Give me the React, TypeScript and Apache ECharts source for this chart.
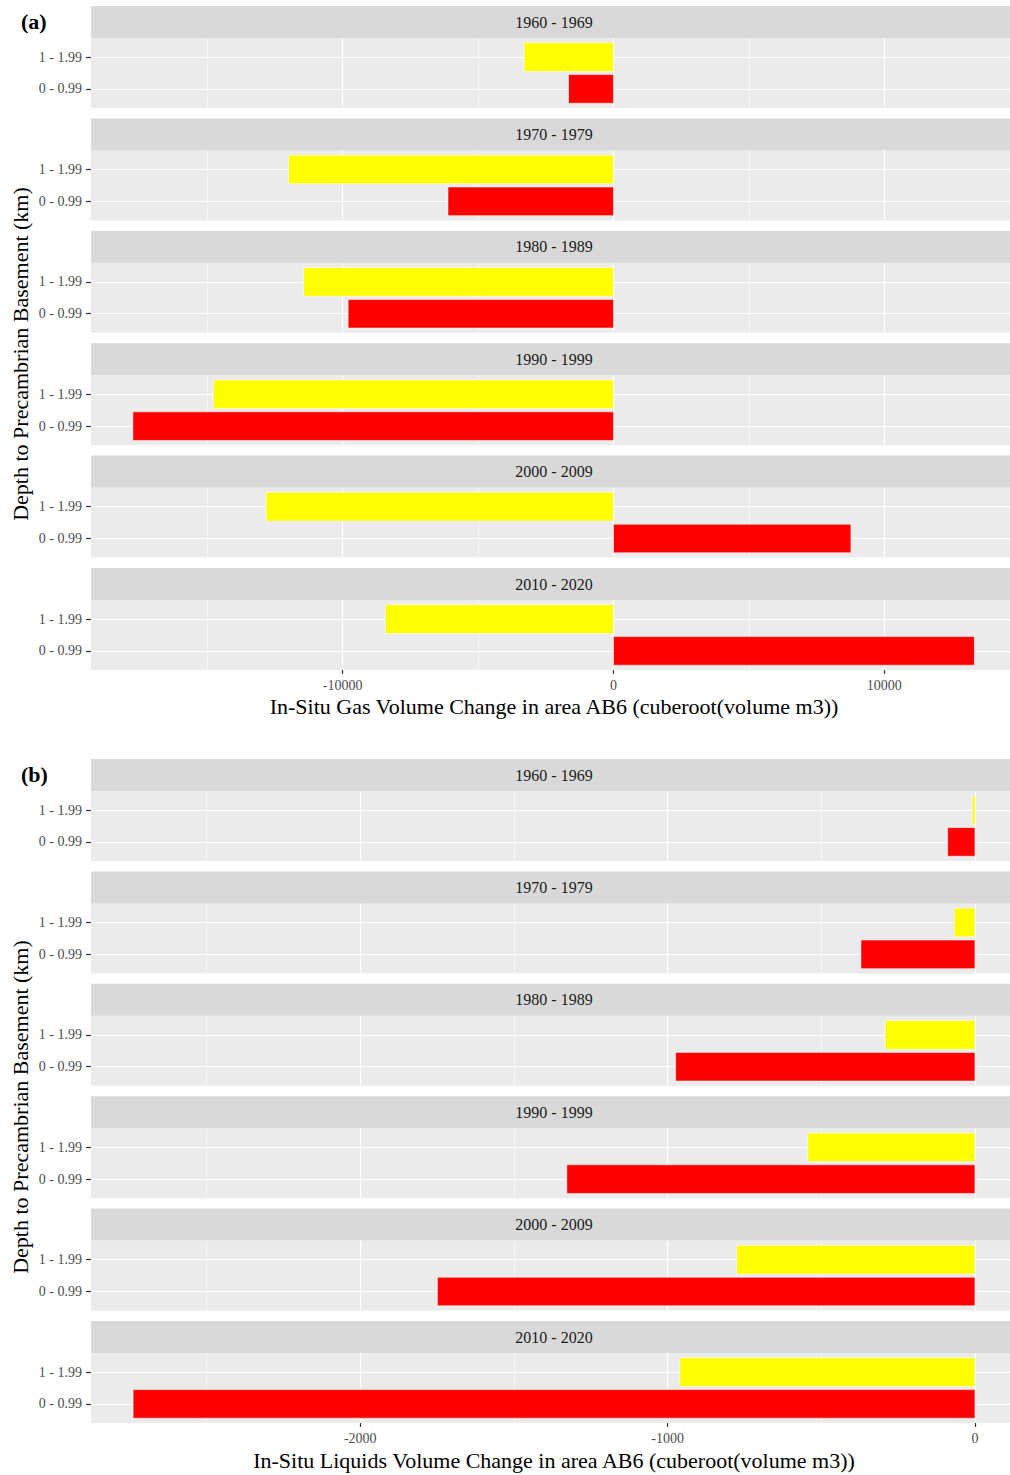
import React, { useEffect, useRef } from 'react';
import * as echarts from 'echarts';

// ---------- data ----------
const periods = ['1960 - 1969', '1970 - 1979', '1980 - 1989', '1990 - 1999', '2000 - 2009', '2010 - 2020'];
const depthClasses = ['0 - 0.99', '1 - 1.99'];

// In-situ gas volume change (cuberoot(volume m3))
const gasShallow = [-1660, -6110, -9800, -17750, 8770, 13330]; // 0 - 0.99 km (red)
const gasDeep = [-3300, -12000, -11440, -14770, -12830, -8420]; // 1 - 1.99 km (yellow)

// In-situ liquids volume change (cuberoot(volume m3))
const liquidShallow = [-89, -371, -974, -1328, -1749, -2739]; // 0 - 0.99 km (red)
const liquidDeep = [-9, -67, -292, -544, -775, -960]; // 1 - 1.99 km (yellow)

const gasMajorTicks = [-10000, 0, 10000];
const gasMinorTicks = [-15000, -5000, 5000];
const liquidMajorTicks = [-2000, -1000, 0];
const liquidMinorTicks = [-2500, -1500, -500];
const gasLimits = [-19295, 14645];
const liquidLimits = [-2876, 114];

const panelLetters = ['(a)', '(b)'];
const xTitles = [
  'In-Situ Gas Volume Change in area AB6 (cuberoot(volume m3))',
  'In-Situ Liquids Volume Change in area AB6 (cuberoot(volume m3))',
];
const yTitle = 'Depth to Precambrian Basement (km)';

const barColors = ['#FF0000', '#FFFF00'];

// ---------- layout ----------
const FONT = "'Liberation Serif', 'Times New Roman', serif";
const PANEL_LEFT = 91;
const PANEL_WIDTH = 919;
const STRIP_TEXT_X = 554;
const STRIP_H = 32;
const PANEL_H = 70;
const STEP = 112.4;
const BLOCK_TOPS = [6, 759];
const Y_TITLE_CENTERS = [354, 1107];

function buildOption() {
  const grid: any[] = [];
  const xAxis: any[] = [];
  const yAxis: any[] = [];
  const series: any[] = [];
  const graphic: any[] = [];

  const blocks = [
    { shallow: gasShallow, deep: gasDeep, major: gasMajorTicks, minor: gasMinorTicks, lim: gasLimits },
    { shallow: liquidShallow, deep: liquidDeep, major: liquidMajorTicks, minor: liquidMinorTicks, lim: liquidLimits },
  ];

  blocks.forEach((b, bi) => {
    periods.forEach((period, k) => {
      const g = grid.length;
      const stripTop = BLOCK_TOPS[bi] + STEP * k;
      const isLast = k === periods.length - 1;
      grid.push({
        left: PANEL_LEFT,
        top: stripTop + STRIP_H,
        width: PANEL_WIDTH,
        height: PANEL_H,
        show: true,
        backgroundColor: '#EBEBEB',
        borderWidth: 0,
      });
      xAxis.push({
        gridIndex: g,
        type: 'value',
        min: b.lim[0],
        max: b.lim[1],
        position: 'bottom',
        axisLine: { show: false, onZero: false },
        axisTick: {
          show: isLast,
          customValues: b.major,
          length: 4,
          lineStyle: { color: '#333333', width: 1.2 },
        },
        axisLabel: {
          show: isLast,
          customValues: b.major,
          formatter: (v: number) => String(v),
          margin: 8,
          fontSize: 14,
          color: '#4D4D4D',
          fontFamily: FONT,
        },
        splitLine: { show: true, lineStyle: { color: '#FFFFFF', width: 1.2 } },
        name: isLast ? xTitles[bi] : '',
        nameLocation: 'middle',
        nameGap: bi === 0 ? 25 : 26,
        nameTextStyle: { fontSize: 22, color: '#000000', fontFamily: FONT, padding: [0, 0, 0, 7] },
      });
      xAxis.push({
        gridIndex: g,
        type: 'value',
        min: b.lim[0],
        max: b.lim[1],
        position: 'top',
        axisLine: { show: false, onZero: false },
        axisTick: { show: false, customValues: b.minor },
        axisLabel: { show: false, customValues: b.minor },
        splitLine: { show: true, lineStyle: { color: '#FFFFFF', width: 0.6 } },
      });
      yAxis.push({
        gridIndex: g,
        type: 'value',
        min: 0.4,
        max: 2.6,
        position: 'left',
        axisLine: { show: false, onZero: false },
        axisTick: {
          show: true,
          customValues: [1, 2],
          length: 5,
          lineStyle: { color: '#333333', width: 1.2 },
        },
        axisLabel: {
          customValues: [1, 2],
          formatter: (v: number) => depthClasses[Math.round(v) - 1],
          margin: 9,
          fontSize: 14,
          color: '#4D4D4D',
          fontFamily: FONT,
        },
        splitLine: { show: true, lineStyle: { color: '#FFFFFF', width: 1.2 } },
      });
      series.push({
        type: 'custom',
        name: period,
        xAxisIndex: 2 * g,
        yAxisIndex: g,
        data: [
          [b.shallow[k], 1, 0],
          [b.deep[k], 2, 1],
        ],
        renderItem: (params: any, api: any) => {
          const v = api.value(0);
          const y = api.value(1);
          const c = api.value(2);
          const p0 = api.coord([0, y]);
          const p1 = api.coord([v, y]);
          const h = api.size([0, 0.9])[1];
          return {
            type: 'rect',
            shape: {
              x: Math.min(p0[0], p1[0]),
              y: p0[1] - h / 2,
              width: Math.abs(p1[0] - p0[0]),
              height: h,
            },
            style: { fill: barColors[c], stroke: 'rgba(255,255,255,0.7)', lineWidth: 0.8 },
          };
        },
      });
      // facet strip
      graphic.push({
        type: 'rect',
        shape: { x: PANEL_LEFT, y: stripTop, width: PANEL_WIDTH, height: STRIP_H },
        style: { fill: '#D9D9D9' },
        silent: true,
      });
      graphic.push({
        type: 'text',
        x: STRIP_TEXT_X,
        y: stripTop + STRIP_H / 2,
        style: {
          text: period,
          fontSize: 16,
          fontFamily: FONT,
          fill: '#1A1A1A',
          textAlign: 'center',
          textVerticalAlign: 'middle',
        },
        silent: true,
      });
    });

    graphic.push({
      type: 'text',
      x: 20,
      y: Y_TITLE_CENTERS[bi],
      rotation: Math.PI / 2,
      style: {
        text: yTitle,
        fontSize: 22,
        fontFamily: FONT,
        fill: '#000000',
        textAlign: 'center',
        textVerticalAlign: 'middle',
      },
      silent: true,
    });
    graphic.push({
      type: 'text',
      x: 21,
      y: BLOCK_TOPS[bi] + 15,
      style: {
        text: panelLetters[bi],
        fontSize: 22,
        fontWeight: 'bold',
        fontFamily: FONT,
        fill: '#000000',
        textAlign: 'left',
        textVerticalAlign: 'middle',
      },
      silent: true,
    });
  });

  return {
    animation: false,
    backgroundColor: '#FFFFFF',
    textStyle: { fontFamily: FONT },
    grid,
    xAxis,
    yAxis,
    series,
    graphic,
  };
}

export default function App() {
  const ref = useRef<HTMLDivElement>(null);
  useEffect(() => {
    if (!ref.current) return;
    const chart = echarts.init(ref.current, undefined, { renderer: 'svg' });
    chart.setOption(buildOption() as any);
    return () => chart.dispose();
  }, []);
  return (
    <div
      ref={ref}
      style={{ position: 'absolute', left: 0, top: 0, width: 1010, height: 1475, background: '#FFFFFF' }}
    />
  );
}
